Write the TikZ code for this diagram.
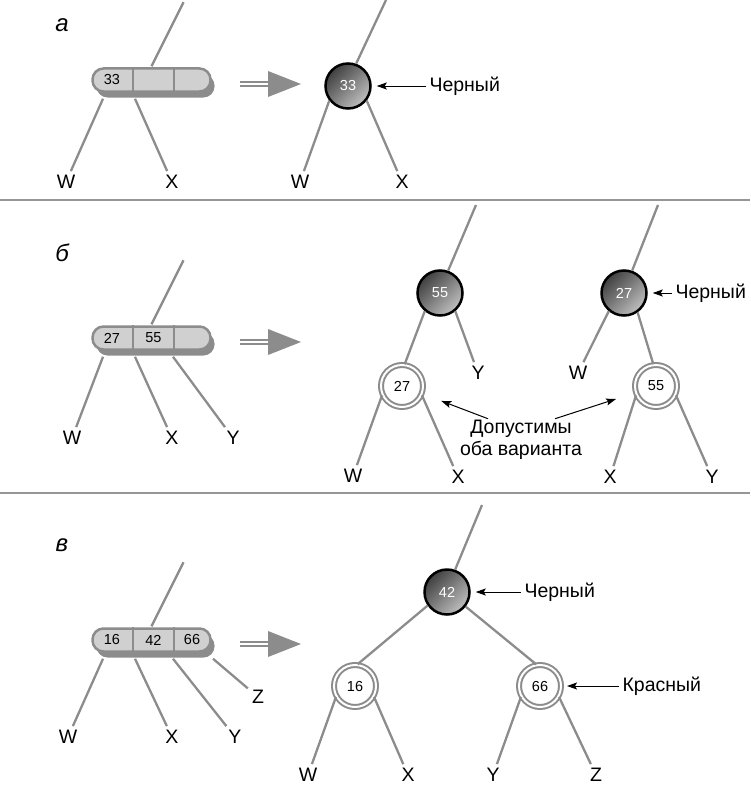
\documentclass[tikz,border=0pt]{standalone}
\usepackage{fontspec}
\setmainfont{Liberation Sans}
\usetikzlibrary{arrows.meta,shadows}

\definecolor{edgegray}{RGB}{140,140,140}
\definecolor{barfill}{RGB}{208,208,208}
\definecolor{rulegray}{RGB}{150,150,150}

% the fat "turns into" arrow between a 2-3-4 node and its tree
\tikzset{convert/.pic={
    \draw[edgegray,line width=1.3pt] (0,-2) -- (28,-2) (0,2) -- (28,2);
    \fill[edgegray] (28,-13) -- (61,0) -- (28,13) -- cycle;
  }}

\begin{document}
\begin{tikzpicture}[x=1pt,y=-1pt,>={Stealth[length=10pt,width=7pt,inset=2pt]},
                    every node/.style={font=\fontsize{19.5}{22}\selectfont}]
  \tikzstyle{bar}=[draw=edgegray,line width=2.5pt,fill=barfill,rounded corners=11pt,
                   minimum width=118pt,minimum height=23pt,inner sep=0pt,
                   drop shadow={shadow xshift=4pt,shadow yshift=-6pt,fill=edgegray,opacity=1}]
  \tikzstyle{num}=[font=\fontsize{14.5}{16}\selectfont,inner sep=0pt]
  \tikzstyle{black node}=[circle,draw=black,line width=2.5pt,minimum size=45pt,inner sep=0pt,
                          top color=black!75,bottom color=black!25,shading angle=45,
                          text=white,font=\fontsize{14.5}{16}\selectfont]
  \tikzstyle{red node}=[circle,draw=edgegray,double=white,double distance=2pt,line width=2pt,
                        fill=white,minimum size=42pt,inner sep=0pt,font=\fontsize{14.5}{16}\selectfont]
  \tikzstyle{leaf}=[inner sep=4pt]
  \tikzstyle{branch}=[draw=edgegray,line width=2.3pt]
  \tikzstyle{divider}=[draw=edgegray,line width=2pt]
  \tikzstyle{pointer}=[->,black,line width=1pt,shorten >=5pt]
  \tikzstyle{remark}=[anchor=west]
  \tikzstyle{sectionmark}=[font=\fontsize{24}{26}\selectfont\itshape]

  \useasboundingbox (0,0) rectangle (750,792);

  % 2-3-4 nodes with their arrows
  \foreach \s/\y in {a/80,b/338,c/640}{
    \node[bar] (bar\s) at (151.5,\y) {};
    \draw[divider] ([xshift=-18.5pt]bar\s.north) -- ([xshift=-18.5pt]bar\s.south)
                   ([xshift=22.5pt]bar\s.north) -- ([xshift=22.5pt]bar\s.south);
    \coordinate (up\s) at ([xshift=32pt,yshift=65pt]bar\s.north);
    \draw[branch] ([yshift=1pt]bar\s.north) -- (up\s);
    \pic at (240,{\y+4}) {convert};
  }

  \draw[rulegray,line width=2pt] (0,200) -- (750,200);
  \draw[rulegray,line width=2pt] (0,493) -- (750,493);

  % a
  \node[sectionmark] (sa) at (62,25) {а};
  \node[num] (a1) at (112,80) {33};
  \node[leaf] (aw) at (66,182) {W};
  \node[leaf] (ax) at (172,182) {X};
  \draw[branch] ([xshift=-48.5pt,yshift=-6pt]bara.south) -- (aw);
  \draw[branch] ([xshift=-16.5pt,yshift=-6pt]bara.south) -- (ax);

  \node[black node] (n33) at (348,86) {33};
  \coordinate (n33up) at (386,0);
  \node[leaf] (aW) at (300,182) {W};
  \node[leaf] (aX) at (402,182) {X};
  \node[remark] (aBlack) at (426,86) {Черный};
  \draw[branch] (n33.70) -- (n33up);
  \draw[branch] (n33.-142) -- (aW);
  \draw[branch] (n33.-38) -- (aX);
  \draw[pointer] (aBlack) -- (n33);

  % b
  \node[sectionmark] (sb) at (62,253) {б};
  \node[num] (b1) at (112,338) {27};
  \node[num] (b2) at (153.5,338) {55};
  \node[leaf] (bw) at (72,438) {W};
  \node[leaf] (bx) at (172,438) {X};
  \node[leaf] (by) at (233,438) {Y};
  \draw[branch] ([xshift=-48.5pt,yshift=-6pt]barb.south) -- (bw);
  \draw[branch] ([xshift=-16.5pt,yshift=-6pt]barb.south) -- (bx);
  \draw[branch] ([xshift=21.5pt,yshift=-6pt]barb.south) -- (by);

  \node[black node] (n55) at (440,293) {55};
  \node[red node] (n27) at (402,386) {27};
  \coordinate (n55up) at (476,205);
  \node[leaf] (bY) at (478,373) {Y};
  \node[leaf] (bW) at (353,476) {W};
  \node[leaf] (bX) at (458,477) {X};
  \draw[branch] (n55.70) -- (n55up);
  \draw[branch] (n55.-130) -- (n27.83);
  \draw[branch] (n55.-50) -- (bY);
  \draw[branch] (n27.-155) -- (bW);
  \draw[branch] (n27.-25) -- (bX);

  \node[black node] (m27) at (624,293) {27};
  \node[red node] (m55) at (656,386) {55};
  \coordinate (m27up) at (658,205);
  \node[leaf] (bW2) at (578,373) {W};
  \node[leaf] (bX2) at (610,477) {X};
  \node[leaf] (bY2) at (712,477) {Y};
  \draw[branch] (m27.70) -- (m27up);
  \draw[branch] (m27.-55) -- (m55.97);
  \draw[branch] (m27.-130) -- (bW2);
  \draw[branch] (m55.-155) -- (bX2);
  \draw[branch] (m55.-25) -- (bY2);

  \node[remark] (bBlack) at (672,293) {Черный};
  \draw[pointer] (bBlack) -- (m27);
  \node[align=center] (both) at (521,440) {Допустимы\\оба варианта};
  \draw[pointer,shorten >=20pt] ([xshift=-33pt,yshift=-2pt]both.north) -- (n27);
  \draw[pointer,shorten >=20pt] ([xshift=34pt,yshift=-2pt]both.north) -- (m55);

  % c
  \node[sectionmark] (sc) at (62,545) {в};
  \node[num] (c1) at (112,640) {16};
  \node[num] (c2) at (153.5,640) {42};
  \node[num] (c3) at (192,640) {66};
  \node[leaf] (cw) at (68,737) {W};
  \node[leaf] (cx) at (172,737) {X};
  \node[leaf] (cy) at (235,737) {Y};
  \node[leaf] (cz) at (258,697) {Z};
  \draw[branch] ([xshift=-48.5pt,yshift=-6pt]barc.south) -- (cw);
  \draw[branch] ([xshift=-16.5pt,yshift=-6pt]barc.south) -- (cx);
  \draw[branch] ([xshift=21.5pt,yshift=-6pt]barc.south) -- (cy);
  \draw[branch] ([xshift=61.5pt,yshift=-6pt]barc.south) -- (cz);

  \node[black node] (n42) at (447,592) {42};
  \node[red node] (n16) at (355,686) {16};
  \node[red node] (n66) at (540,686) {66};
  \coordinate (n42up) at (482,505);
  \node[leaf] (cW) at (308,775) {W};
  \node[leaf] (cX) at (408,775) {X};
  \node[leaf] (cY) at (493,775) {Y};
  \node[leaf] (cZ) at (596,775) {Z};
  \draw[branch] (n42.70) -- (n42up);
  \draw[branch] (n42.-145) -- (n16.83);
  \draw[branch] (n42.-38) -- (n66.100);
  \draw[branch] (n16.-150) -- (cW);
  \draw[branch] (n16.-30) -- (cX);
  \draw[branch] (n66.-150) -- (cY);
  \draw[branch] (n66.-30) -- (cZ);

  \node[remark] (cBlack) at (521,592) {Черный};
  \draw[pointer] (cBlack) -- (n42);
  \node[remark] (cRed) at (619,686) {Красный};
  \draw[pointer] (cRed) -- (n66);
\end{tikzpicture}
\end{document}
